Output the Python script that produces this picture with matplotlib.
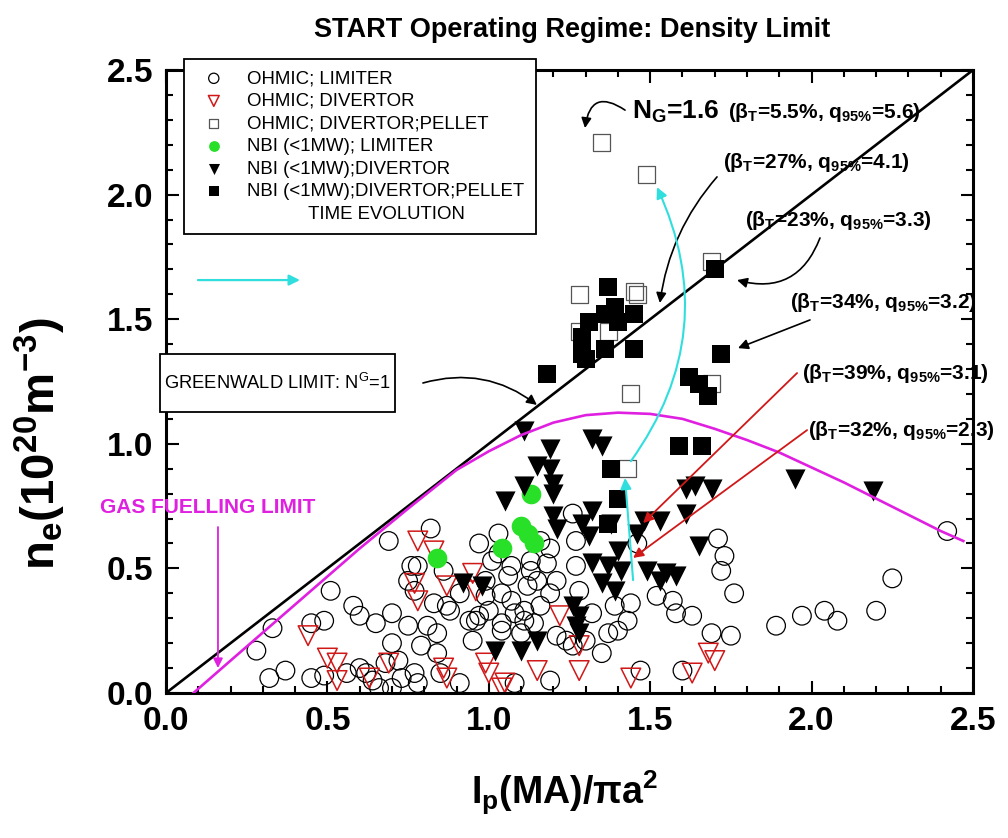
import numpy as np
import matplotlib
matplotlib.use('Agg')
import matplotlib.pyplot as plt
from matplotlib.lines import Line2D
from matplotlib.patches import Rectangle

plt.rcParams['font.family'] = ['Liberation Sans', 'DejaVu Sans']
plt.rcParams['mathtext.default'] = 'regular'

# --- datos ---
# OHMIC; LIMITER (circulos abiertos)
ohm_lim_x = [0.82, 0.69, 0.76, 0.51, 0.58, 0.60, 0.49, 0.45, 0.33, 0.28, 0.37, 0.32, 0.45,
             0.65, 0.70, 0.75, 0.81, 0.70, 0.79, 0.84, 0.60, 0.64, 0.73, 0.78, 0.70, 0.66,
             0.77, 0.83, 0.88, 0.75, 0.86, 0.84, 0.85, 0.56, 0.77, 0.78, 0.68, 0.62, 0.72, 0.49,
             0.97, 1.03, 1.01, 1.07, 1.13, 1.19, 1.26, 1.27, 0.87, 0.91, 0.96, 1.00, 1.04,
             1.07, 1.11, 1.16, 1.21, 1.19, 1.04, 1.10, 1.14, 1.12, 1.15, 1.06, 0.99, 1.04,
             1.21, 1.24, 1.35, 1.40, 1.37, 1.43, 1.44, 1.39, 1.46, 1.52, 1.57, 1.58, 1.63,
             1.60, 1.47, 1.19, 1.08, 0.91, 0.95, 0.94, 1.11, 1.08, 1.28, 1.32, 1.30, 1.26,
             1.13, 1.18, 1.27, 0.97, 0.99, 1.16, 1.03,
             1.71, 1.73, 1.72, 1.76, 1.69, 1.75, 1.89, 1.97, 2.04, 2.08, 2.20, 2.25, 2.42]
ohm_lim_y = [0.66, 0.61, 0.51, 0.41, 0.35, 0.31, 0.29, 0.28, 0.26, 0.17, 0.09, 0.06, 0.06,
             0.28, 0.32, 0.27, 0.27, 0.20, 0.19, 0.16, 0.10, 0.05, 0.06, 0.04, 0.02, 0.02,
             0.41, 0.36, 0.33, 0.45, 0.49, 0.24, 0.08, 0.08, 0.08, 0.51, 0.12, 0.08, 0.13, 0.07,
             0.60, 0.64, 0.53, 0.51, 0.49, 0.58, 0.72, 0.61, 0.35, 0.40, 0.29, 0.33, 0.40,
             0.37, 0.33, 0.35, 0.45, 0.40, 0.25, 0.24, 0.28, 0.43, 0.45, 0.47, 0.45, 0.28,
             0.23, 0.21, 0.16, 0.25, 0.24, 0.29, 0.36, 0.35, 0.60, 0.39, 0.37, 0.32, 0.31,
             0.09, 0.09, 0.05, 0.04, 0.04, 0.21, 0.29, 0.29, 0.32, 0.41, 0.32, 0.21, 0.19,
             0.53, 0.52, 0.51, 0.31, 0.39, 0.61, 0.56,
             0.62, 0.55, 0.49, 0.40, 0.24, 0.23, 0.27, 0.31, 0.33, 0.29, 0.33, 0.46, 0.65]

# OHMIC; DIVERTOR (triangulos rojos abiertos)
ohm_div_x = [0.78, 0.83, 0.77, 0.87, 0.78, 0.44, 0.50, 0.53, 0.53, 0.63, 0.69, 0.86, 0.87,
             0.95, 0.96, 1.22, 1.28, 1.15, 0.99, 1.00, 1.05, 1.04, 1.28, 1.44, 1.63, 1.68, 1.70]
ohm_div_y = [0.61, 0.57, 0.44, 0.43, 0.37, 0.23, 0.14, 0.12, 0.05, 0.06, 0.12, 0.10, 0.06,
             0.48, 0.41, 0.31, 0.19, 0.09, 0.12, 0.08, 0.04, 0.02, 0.09, 0.06, 0.08, 0.16, 0.13]

# OHMIC; DIVERTOR; PELLET (cuadrados abiertos)
ohm_pel_x = [1.35, 1.49, 1.69, 1.28, 1.45, 1.46, 1.28, 1.44, 1.43, 1.69, 1.37]
ohm_pel_y = [2.21, 2.08, 1.73, 1.60, 1.61, 1.60, 1.45, 1.20, 0.90, 1.24, 1.45]

# NBI (<1MW); LIMITER (circulos verdes)
nbi_lim_x = [0.84, 1.10, 1.12, 1.14, 1.04, 1.13]
nbi_lim_y = [0.54, 0.67, 0.64, 0.60, 0.58, 0.80]

# NBI (<1MW); DIVERTOR (triangulos negros)
nbi_div_x = [1.11, 1.19, 1.15, 1.19, 1.11, 1.20, 1.05, 1.32, 1.35, 1.61, 1.69, 1.95, 2.19,
             1.20, 1.20, 1.21, 1.32, 1.29, 1.31, 1.38, 1.40, 1.32, 1.37, 1.41, 1.35, 1.39,
             1.48, 1.53, 1.46, 1.49, 1.55, 1.58, 1.53, 1.61, 1.64, 1.65, 0.92, 0.98,
             1.26, 1.28, 1.27, 1.28, 1.15, 1.10, 1.02]
nbi_div_y = [1.05, 0.98, 0.91, 0.90, 0.83, 0.84, 0.77, 1.02, 0.99, 0.82, 0.82, 0.86, 0.81,
             0.80, 0.71, 0.66, 0.73, 0.68, 0.63, 0.68, 0.57, 0.52, 0.51, 0.49, 0.44, 0.41,
             0.69, 0.69, 0.64, 0.49, 0.48, 0.47, 0.45, 0.72, 0.83, 0.59, 0.44, 0.43,
             0.35, 0.31, 0.27, 0.24, 0.21, 0.17, 0.17]

# NBI (<1MW); DIVERTOR; PELLET (cuadrados negros)
nbi_pel_x = [1.70, 1.72, 1.37, 1.39, 1.36, 1.31, 1.40, 1.45, 1.29, 1.29, 1.30, 1.36, 1.45,
             1.18, 1.62, 1.65, 1.68, 1.59, 1.66, 1.38, 1.40, 1.37]
nbi_pel_y = [1.70, 1.36, 1.63, 1.55, 1.52, 1.49, 1.49, 1.52, 1.43, 1.36, 1.34, 1.38, 1.38,
             1.28, 1.27, 1.24, 1.19, 0.99, 0.99, 0.90, 0.78, 0.68]

# limites
greenwald_x = [0.0, 2.5]
greenwald_y = [0.0, 2.5]
gas_x = [0.085, 0.2, 0.4, 0.6, 0.75, 0.9, 1.0, 1.1, 1.2, 1.3, 1.4, 1.5, 1.6, 1.7,
         1.8, 1.9, 2.0, 2.1, 2.2, 2.3, 2.4, 2.47]
gas_y = [0.0, 0.13, 0.355, 0.58, 0.74, 0.895, 0.97, 1.035, 1.085, 1.115, 1.125, 1.12,
         1.10, 1.06, 1.015, 0.965, 0.905, 0.845, 0.78, 0.715, 0.65, 0.61]

magenta = '#e020e0'
cyan = '#30dede'
red = '#d01818'

fig = plt.figure(figsize=(10.08, 8.38), dpi=100)
ax = fig.add_axes([166/1008, 1-693/838, 807/1008, 623/838])

ax.plot(greenwald_x, greenwald_y, color='black', lw=1.9, zorder=3)
ax.plot(gas_x, gas_y, color=magenta, lw=1.9, zorder=3)

h1 = ax.scatter(ohm_lim_x, ohm_lim_y, s=180, marker='o', facecolors='none',
                edgecolors='black', linewidths=0.9, zorder=2, label='OHMIC; LIMITER')
h2 = ax.scatter(ohm_div_x, ohm_div_y, s=200, marker='v', facecolors='none',
                edgecolors=red, linewidths=1.1, zorder=2, label='OHMIC; DIVERTOR')
h4 = ax.scatter(nbi_lim_x, nbi_lim_y, s=200, marker='o', color='#28e028',
                linewidths=0, zorder=2.2, label='NBI (<1MW); LIMITER')
h5 = ax.scatter(nbi_div_x, nbi_div_y, s=210, marker='v', color='black',
                linewidths=0, zorder=2.4, label='NBI (<1MW);DIVERTOR')
h3 = ax.scatter(ohm_pel_x, ohm_pel_y, s=150, marker='s', facecolors='none',
                edgecolors='#555555', linewidths=0.9, zorder=2.5, label='OHMIC; DIVERTOR;PELLET')
h6 = ax.scatter(nbi_pel_x, nbi_pel_y, s=160, marker='s', color='black',
                linewidths=0, zorder=2.6, label='NBI (<1MW);DIVERTOR;PELLET')

ax.set_xlim(0, 2.5)
ax.set_ylim(0, 2.5)
ax.set_xticks(np.arange(0, 2.51, 0.5))
ax.set_yticks(np.arange(0, 2.51, 0.5))
ax.set_xticks(np.arange(0, 2.51, 0.1), minor=True)
ax.set_yticks(np.arange(0, 2.51, 0.1), minor=True)
ax.tick_params(which='both', direction='in', top=True, right=True, width=1.5)
ax.tick_params(which='major', length=9, labelsize=24, pad=9)
ax.tick_params(which='minor', length=5)
for lab in ax.get_xticklabels() + ax.get_yticklabels():
    lab.set_fontweight('bold')
for sp in ax.spines.values():
    sp.set_linewidth(2.2)

ax.set_xlabel(r'I$_p$(MA)/$\pi$a$^2$', fontsize=27, fontweight='bold')
ax.xaxis.set_label_coords(0.494, -0.122)
ax.set_ylabel(r'n$_e$(10$^{20}$m$^{-3}$)', fontsize=34, fontweight='bold')
ax.yaxis.set_label_coords(-0.121, 0.40)
fig.text(572/1008, 1-30/838, 'START Operating Regime: Density Limit', ha='center',
         va='center', fontsize=19.5, fontweight='bold')

# leyenda
blank = Line2D([], [], ls='none')
leg = ax.legend(handles=[h1, h2, h3, h4, h5, h6, blank],
                labels=['OHMIC; LIMITER', 'OHMIC; DIVERTOR', 'OHMIC; DIVERTOR;PELLET',
                        'NBI (<1MW); LIMITER', 'NBI (<1MW);DIVERTOR',
                        'NBI (<1MW);DIVERTOR;PELLET', '            TIME EVOLUTION'],
                loc='upper left', bbox_to_anchor=(18/807, 1+11/623), borderaxespad=0,
                fancybox=False, edgecolor='black', framealpha=1, fontsize=13.4,
                labelspacing=0.3, handletextpad=0.8, borderpad=0.6, markerscale=0.55,
                scatterpoints=1)
leg.get_frame().set_linewidth(1.3)
leg.set_zorder(10)
ax.annotate('', xy=(0.415, 1.657), xytext=(0.099, 1.657), annotation_clip=False,
            arrowprops=dict(arrowstyle='-|>', color=cyan, lw=1.6, mutation_scale=16,
                            shrinkA=0, shrinkB=0), zorder=11)

# evolucion temporal
ax.annotate('', xy=(1.422, 0.863), xytext=(1.447, 0.453),
            arrowprops=dict(arrowstyle='-|>', color=cyan, lw=1.5, mutation_scale=16,
                            shrinkA=0, shrinkB=0), zorder=4)
ax.annotate('', xy=(1.521, 2.03), xytext=(1.44, 0.93),
            arrowprops=dict(arrowstyle='-|>', color=cyan, lw=1.5, mutation_scale=16,
                            shrinkA=0, shrinkB=0, connectionstyle='arc3,rad=0.29'), zorder=4)

# anotaciones
bold = dict(fontweight='bold', va='center', ha='left')
ax.text(1.444, 2.331, r'N$_G$=1.6', fontsize=19, **bold)
ax.text(1.741, 2.331, r'($\beta_T$=5.5%, q$_{95\%}$=5.6)', fontsize=15, **bold)
ax.text(1.726, 2.127, r'($\beta_T$=27%, q$_{95\%}$=4.1)', fontsize=15, **bold)
ax.text(1.794, 1.898, r'($\beta_T$=23%, q$_{95\%}$=3.3)', fontsize=15, **bold)
ax.text(1.933, 1.569, r'($\beta_T$=34%, q$_{95\%}$=3.2)', fontsize=15, **bold)
ax.text(1.970, 1.284, r'($\beta_T$=39%, q$_{95\%}$=3.1)', fontsize=15, **bold)
ax.text(1.989, 1.055, r'($\beta_T$=32%, q$_{95\%}$=2.3)', fontsize=15, **bold)

arr = dict(arrowstyle='-|>', color='black', lw=1.2, mutation_scale=15, shrinkA=0, shrinkB=0)
ax.annotate('', xy=(1.298, 2.267), xytext=(1.422, 2.339),
            arrowprops=dict(arr, connectionstyle='arc3,rad=0.8'))
ax.annotate('', xy=(1.530, 1.565), xytext=(1.707, 2.071),
            arrowprops=dict(arr, connectionstyle='arc3,rad=0.15'))
ax.annotate('', xy=(1.769, 1.657), xytext=(2.026, 1.826),
            arrowprops=dict(arr, connectionstyle='arc3,rad=-0.45'))
ax.annotate('', xy=(1.772, 1.384), xytext=(1.995, 1.497), arrowprops=arr)
ax.annotate('', xy=(1.149, 1.156), xytext=(0.796, 1.244),
            arrowprops=dict(arr, connectionstyle='arc3,rad=-0.25'))

arr_r = dict(arrowstyle='-|>', color=red, lw=1.3, mutation_scale=15, shrinkA=0, shrinkB=0)
ax.annotate('', xy=(1.478, 0.682), xytext=(1.955, 1.284), arrowprops=arr_r)
ax.annotate('', xy=(1.447, 0.542), xytext=(1.986, 1.055), arrowprops=arr_r)

# limite de Greenwald
ax.add_patch(Rectangle((-0.0186, 1.128), 0.7276, 0.232, facecolor='white',
                       edgecolor='black', lw=1.3, clip_on=False, zorder=10))
ax.text(0.345, 1.244, r'GREENWALD LIMIT: N$^G$=1', fontsize=13.2, ha='center',
        va='center', zorder=11)

# limite de alimentacion por gas
ax.text(-0.204, 0.746, 'GAS FUELLING LIMIT', color=magenta, fontsize=15,
        fontweight='bold', ha='left', va='center')
ax.annotate('', xy=(0.161, 0.10), xytext=(0.161, 0.666),
            arrowprops=dict(arrowstyle='-|>', color=magenta, lw=1.3, mutation_scale=14,
                            shrinkA=0, shrinkB=0))

fig.savefig('out.png', dpi=100)
